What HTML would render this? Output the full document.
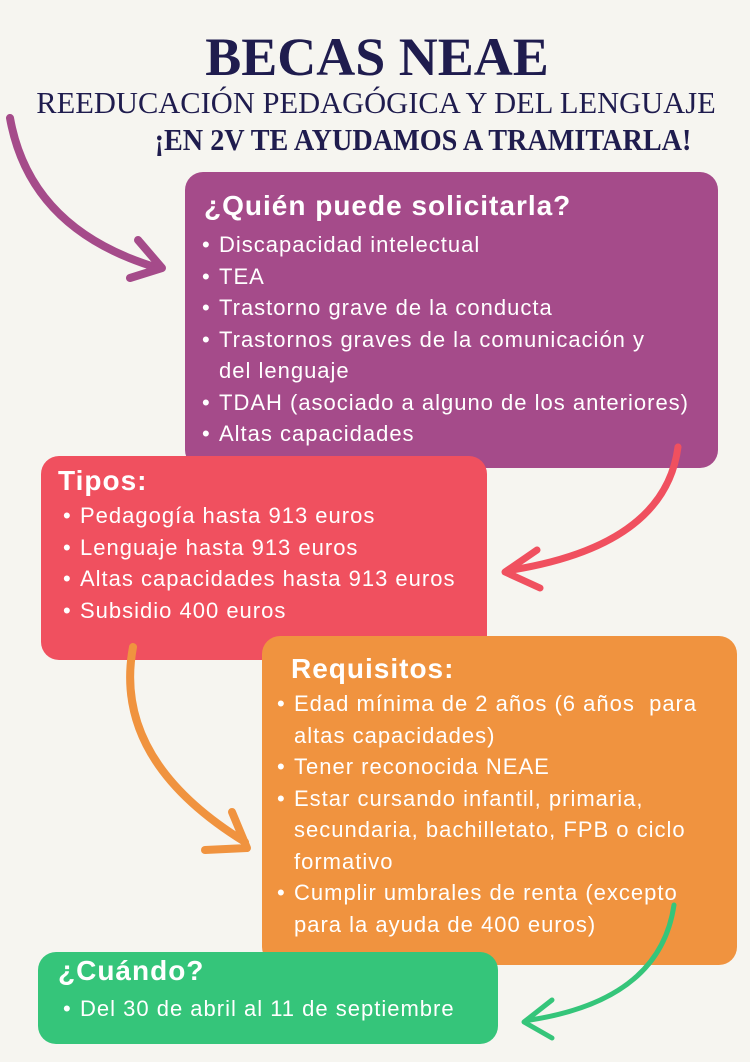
<!DOCTYPE html>
<html><head><meta charset="utf-8"><style>
*{margin:0;padding:0;box-sizing:border-box}
body{width:750px;height:1062px;background:#f6f5f0;position:relative;overflow:hidden;font-family:"Liberation Sans",sans-serif;color:#fff}
.t{position:absolute;left:0;width:750px;text-align:center;font-family:"Liberation Serif",serif;color:#1f1c4e;white-space:nowrap}
.box{position:absolute;border-radius:18px}
.h{position:absolute;font-weight:bold;font-size:28px;letter-spacing:1px;white-space:nowrap}
.l{position:absolute;font-size:22px;letter-spacing:1px;line-height:31.5px;white-space:nowrap}
.b{position:relative}
.b:before{content:"•";position:absolute;left:-17px}
svg{position:absolute;left:0;top:0}
</style></head><body>
<div class="t" style="top:26px;font-size:54px;font-weight:bold;left:2px">BECAS NEAE</div>
<div class="t" style="top:86px;font-size:30.5px;left:1px">REEDUCACIÓN PEDAGÓGICA Y DEL LENGUAJE</div>
<div class="t" style="top:122px;font-size:31px;font-weight:bold;left:48px;transform:scaleX(0.91)">¡EN 2V TE AYUDAMOS A TRAMITARLA!</div>

<div class="box" style="left:185px;top:172px;width:533px;height:296px;background:#a54b8a"></div>
<div class="box" style="left:41px;top:456px;width:446px;height:204px;background:#f0505f"></div>
<div class="box" style="left:262px;top:636px;width:475px;height:329px;background:#f0933f"></div>
<div class="box" style="left:38px;top:952px;width:460px;height:92px;background:#35c57a"></div>

<svg width="750" height="1062" fill="none" stroke-linecap="round" stroke-linejoin="round">
<path d="M10 118 Q30 230 158 268" stroke="#a54b8a" stroke-width="8"/>
<path d="M138 240 L162 268 L130 278" stroke="#a54b8a" stroke-width="8"/>
<path d="M678 447 Q665 545 512 570" stroke="#f0505f" stroke-width="7"/>
<path d="M537 550 L505 572 L540 588" stroke="#f0505f" stroke-width="7"/>
<path d="M133 647 Q112 760 245 842" stroke="#f0933f" stroke-width="8"/>
<path d="M232 812 L247 848 L205 850" stroke="#f0933f" stroke-width="8"/>
<path d="M674 905 Q660 1000 530 1020" stroke="#35c57a" stroke-width="5"/>
<path d="M552 1000 L524 1022 L552 1038" stroke="#35c57a" stroke-width="5"/>
</svg>

<div class="h" style="left:204px;top:190px">¿Quién puede solicitarla?</div>
<div class="l" style="left:219px;top:229px">
<div class="b">Discapacidad intelectual</div>
<div class="b">TEA</div>
<div class="b">Trastorno grave de la conducta</div>
<div class="b">Trastornos graves de la comunicación y</div>
<div>del lenguaje</div>
<div class="b">TDAH (asociado a alguno de los anteriores)</div>
<div class="b">Altas capacidades</div>
</div>

<div class="h" style="left:58px;top:465px">Tipos:</div>
<div class="l" style="left:80px;top:500px">
<div class="b">Pedagogía hasta 913 euros</div>
<div class="b">Lenguaje hasta 913 euros</div>
<div class="b">Altas capacidades hasta 913 euros</div>
<div class="b">Subsidio 400 euros</div>
</div>

<div class="h" style="left:291px;top:653px">Requisitos:</div>
<div class="l" style="left:294px;top:688px">
<div class="b">Edad mínima de 2 años (6 años&nbsp; para</div>
<div>altas capacidades)</div>
<div class="b">Tener reconocida NEAE</div>
<div class="b">Estar cursando infantil, primaria,</div>
<div>secundaria, bachilletato, FPB o ciclo</div>
<div>formativo</div>
<div class="b">Cumplir umbrales de renta (excepto</div>
<div>para la ayuda de 400 euros)</div>
</div>

<div class="h" style="left:58px;top:955px">¿Cuándo?</div>
<div class="l" style="left:80px;top:993px"><div class="b">Del 30 de abril al 11 de septiembre</div></div>
</body></html>
